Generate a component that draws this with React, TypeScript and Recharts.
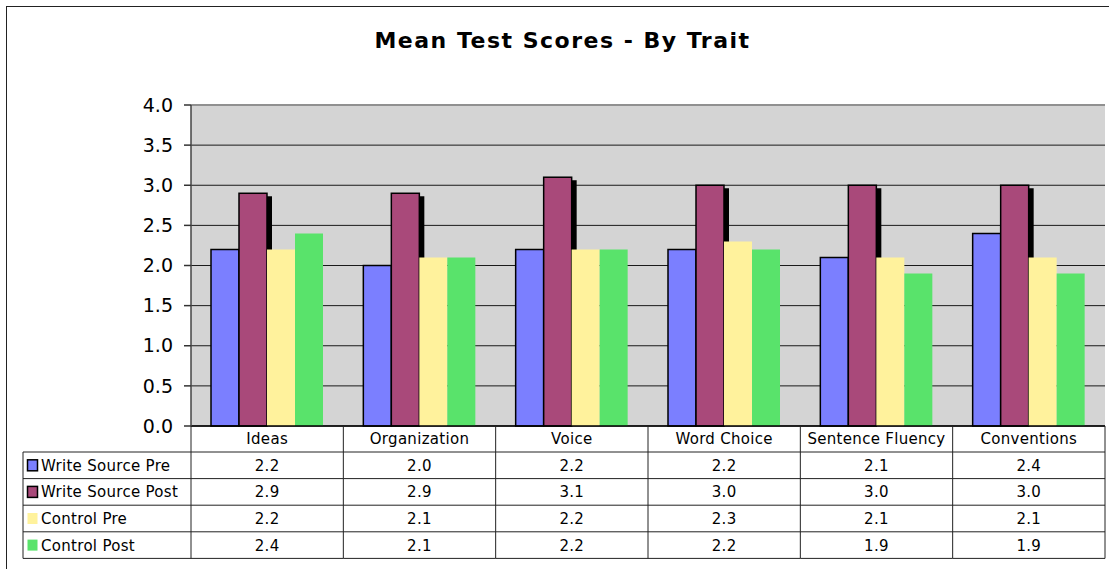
import React from "react";
import {
  BarChart,
  Bar,
  XAxis,
  YAxis,
  CartesianGrid,
  ReferenceLine,
} from "recharts";

const categories = ["Ideas", "Organization", "Voice", "Word Choice", "Sentence Fluency", "Conventions"];
const writeSourcePre = [2.2, 2.0, 2.2, 2.2, 2.1, 2.4];
const writeSourcePost = [2.9, 2.9, 3.1, 3.0, 3.0, 3.0];
const controlPre = [2.2, 2.1, 2.2, 2.3, 2.1, 2.1];
const controlPost = [2.4, 2.1, 2.2, 2.2, 1.9, 1.9];
const yTicks = [0, 0.5, 1, 1.5, 2, 2.5, 3, 3.5, 4];

const series = [
  { key: "wsPre", name: "Write Source Pre", values: writeSourcePre, color: "#7B7FFF", outlined: true },
  { key: "wsPost", name: "Write Source Post", values: writeSourcePost, color: "#A9497A", outlined: true },
  { key: "ctlPre", name: "Control Pre", values: controlPre, color: "#FFF29C", outlined: false },
  { key: "ctlPost", name: "Control Post", values: controlPost, color: "#59E36B", outlined: false },
];

const data = categories.map((trait, i) => {
  const row: Record<string, string | number> = { trait };
  series.forEach((s) => (row[s.key] = s.values[i]));
  return row;
});

const W = 1109;
const H = 569;
const Y_W = 60;
const M = { top: 105, right: 4, left: 191 - Y_W, bottom: 10 };
const X_H = 133;
const PLOT_LEFT = M.left + Y_W;
const COL_W = (W - M.right - PLOT_LEFT) / categories.length;
const TABLE_LEFT = 23;
const HEAD_H = 26;
const ROW_H = 26.6;
const FONT = "'DejaVu Sans', Verdana, sans-serif";
const LINE = "#222";

function TableTick(props: any) {
  const { x, y, payload } = props;
  const i = payload.index;
  const left = x - COL_W / 2;
  const right = x + COL_W / 2;
  const bottom = y + HEAD_H + ROW_H * series.length;
  return (
    <g fontFamily={FONT} fontSize={15} fill="#000" letterSpacing={0.3}>
      {i === 0 && <line x1={left} x2={left} y1={y} y2={bottom} stroke={LINE} />}
      <line x1={right} x2={right} y1={y} y2={bottom} stroke={LINE} />
      <text x={x} y={y + HEAD_H / 2} dy="0.36em" textAnchor="middle" fill="#000">
        {payload.value}
      </text>
      {series.map((s, r) => {
        const top = y + HEAD_H + r * ROW_H;
        return (
          <g key={s.key}>
            <line x1={left} x2={right} y1={top} y2={top} stroke={LINE} />
            <text x={x} y={top + ROW_H / 2} dy="0.36em" textAnchor="middle" fill="#000">
              {s.values[i].toFixed(1)}
            </text>
          </g>
        );
      })}
      <line x1={left} x2={right} y1={bottom} y2={bottom} stroke={LINE} />
      {i === 0 && (
        <g>
          <line x1={TABLE_LEFT} x2={TABLE_LEFT} y1={y + HEAD_H} y2={bottom} stroke={LINE} />
          {series.map((s, r) => {
            const top = y + HEAD_H + r * ROW_H;
            return (
              <g key={s.key}>
                <line x1={TABLE_LEFT} x2={left} y1={top} y2={top} stroke={LINE} />
                <rect
                  x={27.5}
                  y={top + ROW_H / 2 - 5.5}
                  width={10}
                  height={11}
                  fill={s.color}
                  stroke={s.outlined ? "#000" : "none"}
                  strokeWidth={1.5}
                />
                <text x={41} y={top + ROW_H / 2} dy="0.36em" fill="#000">
                  {s.name}
                </text>
              </g>
            );
          })}
          <line x1={TABLE_LEFT} x2={left} y1={bottom} y2={bottom} stroke={LINE} />
        </g>
      )}
    </g>
  );
}

function ShadowBar(props: any) {
  const { x, y, width, height, fill } = props;
  if (!height || height <= 0) return null;
  return (
    <g>
      <rect x={x + 5} y={y + 3} width={width} height={height - 3} fill="#000" />
      <rect x={x} y={y} width={width} height={height} fill={fill} stroke="#000" strokeWidth={1.5} />
    </g>
  );
}

export default function App() {
  return (
    <div
      style={{
        position: "absolute",
        left: 0,
        top: 0,
        width: W,
        height: H,
        overflow: "hidden",
        background: "#fff",
      }}
    >
      <div
        style={{
          position: "absolute",
          left: 6,
          top: 6,
          width: W + 40,
          height: H + 40,
          border: "1px solid #222",
        }}
      />
      <svg style={{ position: "absolute", left: 0, top: 0 }} width={W} height={60}>
        <text
          x={562.5}
          y={48}
          textAnchor="middle"
          fontFamily={FONT}
          fontWeight="bold"
          fontSize={22}
          letterSpacing={1.5}
          fill="#000"
        >
          Mean Test Scores - By Trait
        </text>
      </svg>
      <div style={{ position: "absolute", left: 0, top: 0 }}>
        <BarChart width={W} height={H} data={data} margin={M} barGap={0} barSize={28}>
          <CartesianGrid vertical={false} stroke="#1a1a1a" fill="#D4D4D4" fillOpacity={1} />
          <XAxis
            dataKey="trait"
            interval={0}
            height={X_H}
            tickSize={0}
            tickMargin={0}
            tickLine={false}
            axisLine={{ stroke: "#000", strokeWidth: 1.5 }}
            tick={(p: any) => <TableTick {...p} />}
          />
          <YAxis
            width={Y_W}
            domain={[0, 4]}
            ticks={yTicks}
            tickFormatter={(v: number) => v.toFixed(1)}
            tick={{ fontSize: 19, fill: "#000", fontFamily: FONT }}
            tickSize={7}
            tickMargin={11}
            tickLine={{ stroke: "#333", strokeWidth: 1.5 }}
            axisLine={{ stroke: "#444", strokeWidth: 1.5 }}
          />
          <YAxis
            yAxisId="r"
            orientation="right"
            width={0}
            domain={[0, 4]}
            tick={false}
            tickLine={false}
            axisLine={{ stroke: "#909090", strokeWidth: 2 }}
          />
          <ReferenceLine y={4} stroke="#909090" strokeWidth={2} />
          {series.map((s) =>
            s.key === "wsPost" ? (
              <Bar
                key={s.key}
                dataKey={s.key}
                name={s.name}
                fill={s.color}
                shape={(p: any) => <ShadowBar {...p} />}
                isAnimationActive={false}
              />
            ) : (
              <Bar
                key={s.key}
                dataKey={s.key}
                name={s.name}
                fill={s.color}
                stroke={s.outlined ? "#000" : "none"}
                strokeWidth={1.5}
                isAnimationActive={false}
              />
            )
          )}
        </BarChart>
      </div>
    </div>
  );
}
